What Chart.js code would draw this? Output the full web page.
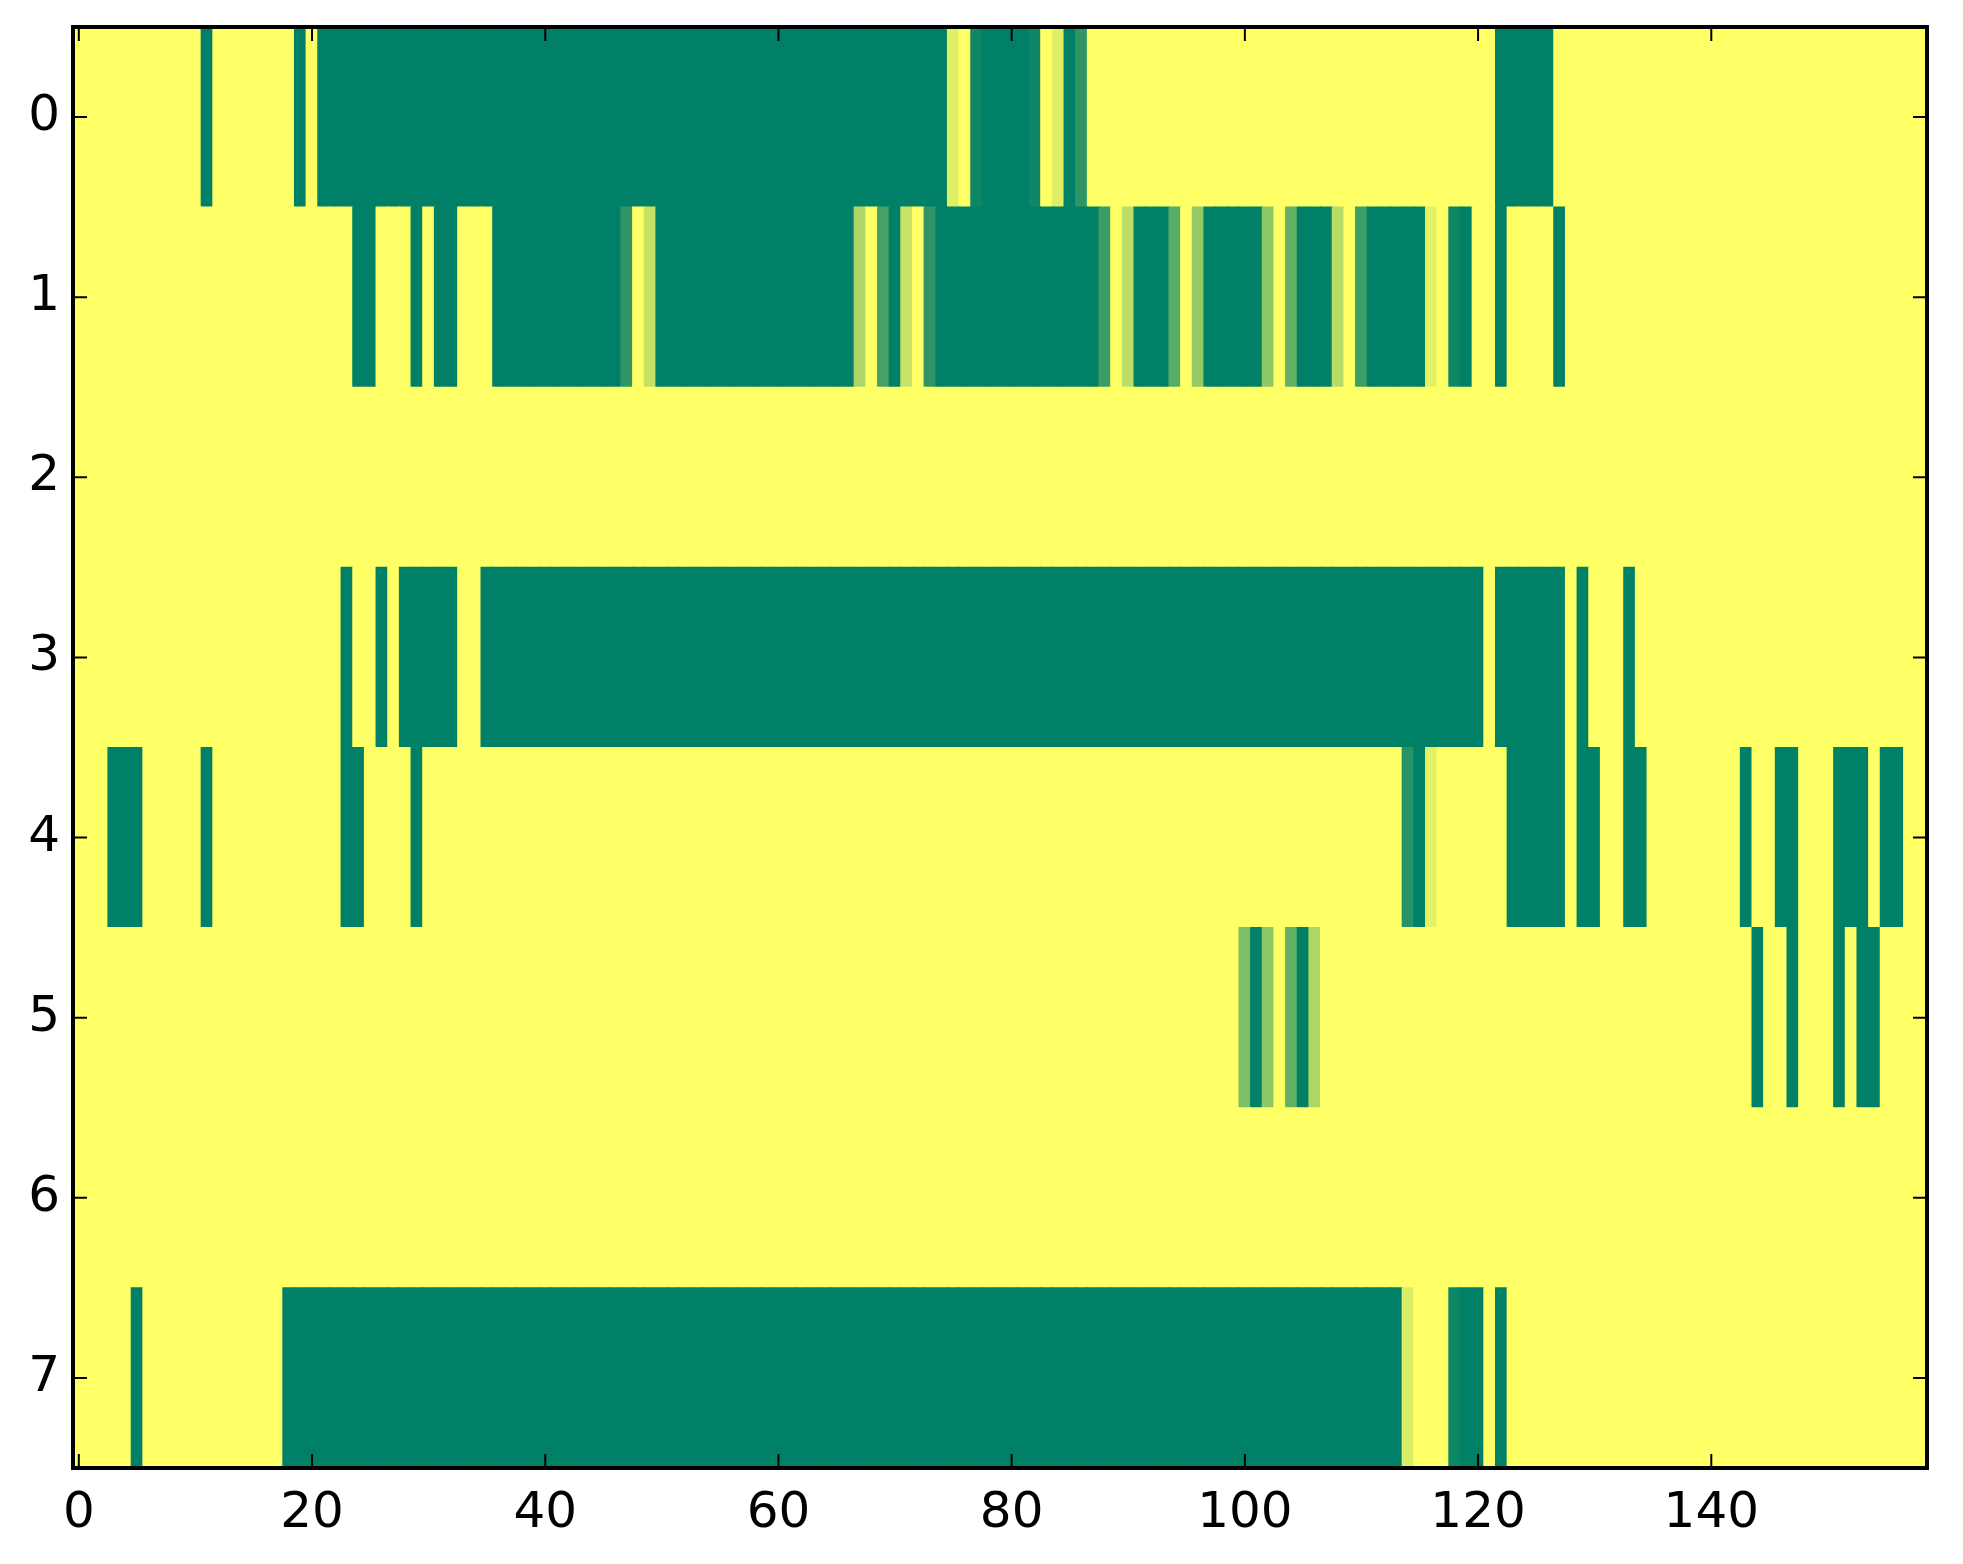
<!DOCTYPE html>
<html>
<head>
<meta charset="utf-8">
<script src="https://cdn.jsdelivr.net/npm/chart.js@4.4.0/dist/chart.umd.min.js"></script>
<style>
html, body { margin: 0; padding: 0; background: #fff; }
</style>
</head>
<body>
<canvas id="heat" width="1963" height="1564"></canvas>
<script>
// row / column tick labels
const rowLabels = [0, 1, 2, 3, 4, 5, 6, 7];
const xTicks = [0, 20, 40, 60, 80, 100, 120, 140];

// cell values per row, 159 columns each (0 = green, 1 = yellow)
const row0 = [
  1,1,1,1,1,1,1,1,1,1, 1,0,1,1,1,1,1,1,1,0,
  1,0,0,0,0,0,0,0,0,0, 0,0,0,0,0,0,0,0,0,0,
  0,0,0,0,0,0,0,0,0,0, 0,0,0,0,0,0,0,0,0,0,
  0,0,0,0,0,0,0,0,0,0, 0,0,0,0,0,.88,1,.06,0,0,
  0,0,.06,1,.88,0,.18,1,1,1, 1,1,1,1,1,1,1,1,1,1,
  1,1,1,1,1,1,1,1,1,1, 1,1,1,1,1,1,1,1,1,1,
  1,1,0,0,0,0,0,1,1,1, 1,1,1,1,1,1,1,1,1,1,
  1,1,1,1,1,1,1,1,1,1, 1,1,1,1,1,1,1,1,1
];
const row1 = [
  1,1,1,1,1,1,1,1,1,1, 1,1,1,1,1,1,1,1,1,1,
  1,1,1,1,0,0,1,1,1,0, 1,0,0,1,1,1,0,0,0,0,
  0,0,0,0,0,0,0,.18,1,.77, 0,0,0,0,0,0,0,0,0,0,
  0,0,0,0,0,0,0,.68,1,.27, 0,.78,1,.18,0,0,0,0,0,0,
  0,0,0,0,0,0,0,0,.23,1, .74,0,0,0,.35,1,.58,0,0,0,
  0,0,.56,1,.38,0,0,0,.72,1, .24,0,0,0,0,0,.9,1,.05,0,
  1,1,0,1,1,1,1,0,1,1, 1,1,1,1,1,1,1,1,1,1,
  1,1,1,1,1,1,1,1,1,1, 1,1,1,1,1,1,1,1,1
];
const row2 = [
  1,1,1,1,1,1,1,1,1,1, 1,1,1,1,1,1,1,1,1,1,
  1,1,1,1,1,1,1,1,1,1, 1,1,1,1,1,1,1,1,1,1,
  1,1,1,1,1,1,1,1,1,1, 1,1,1,1,1,1,1,1,1,1,
  1,1,1,1,1,1,1,1,1,1, 1,1,1,1,1,1,1,1,1,1,
  1,1,1,1,1,1,1,1,1,1, 1,1,1,1,1,1,1,1,1,1,
  1,1,1,1,1,1,1,1,1,1, 1,1,1,1,1,1,1,1,1,1,
  1,1,1,1,1,1,1,1,1,1, 1,1,1,1,1,1,1,1,1,1,
  1,1,1,1,1,1,1,1,1,1, 1,1,1,1,1,1,1,1,1
];
const row3 = [
  1,1,1,1,1,1,1,1,1,1, 1,1,1,1,1,1,1,1,1,1,
  1,1,1,0,1,1,0,1,0,0, 0,0,0,1,1,0,0,0,0,0,
  0,0,0,0,0,0,0,0,0,0, 0,0,0,0,0,0,0,0,0,0,
  0,0,0,0,0,0,0,0,0,0, 0,0,0,0,0,0,0,0,0,0,
  0,0,0,0,0,0,0,0,0,0, 0,0,0,0,0,0,0,0,0,0,
  0,0,0,0,0,0,0,0,0,0, 0,0,0,0,0,0,0,0,0,0,
  0,1,0,0,0,0,0,0,1,0, 1,1,1,0,1,1,1,1,1,1,
  1,1,1,1,1,1,1,1,1,1, 1,1,1,1,1,1,1,1,1
];
const row4 = [
  1,1,1,0,0,0,1,1,1,1, 1,0,1,1,1,1,1,1,1,1,
  1,1,1,0,0,1,1,1,1,0, 1,1,1,1,1,1,1,1,1,1,
  1,1,1,1,1,1,1,1,1,1, 1,1,1,1,1,1,1,1,1,1,
  1,1,1,1,1,1,1,1,1,1, 1,1,1,1,1,1,1,1,1,1,
  1,1,1,1,1,1,1,1,1,1, 1,1,1,1,1,1,1,1,1,1,
  1,1,1,1,1,1,1,1,1,1, 1,1,1,1,.15,0,.9,1,1,1,
  1,1,1,0,0,0,0,0,1,0, 0,1,1,0,0,1,1,1,1,1,
  1,1,1,0,1,1,0,0,1,1, 1,0,0,0,1,0,0,1,1
];
const row5 = [
  1,1,1,1,1,1,1,1,1,1, 1,1,1,1,1,1,1,1,1,1,
  1,1,1,1,1,1,1,1,1,1, 1,1,1,1,1,1,1,1,1,1,
  1,1,1,1,1,1,1,1,1,1, 1,1,1,1,1,1,1,1,1,1,
  1,1,1,1,1,1,1,1,1,1, 1,1,1,1,1,1,1,1,1,1,
  1,1,1,1,1,1,1,1,1,1, 1,1,1,1,1,1,1,1,1,1,
  .49,0,.56,1,.38,0,.68,1,1,1, 1,1,1,1,1,1,1,1,1,1,
  1,1,1,1,1,1,1,1,1,1, 1,1,1,1,1,1,1,1,1,1,
  1,1,1,1,0,1,1,0,1,1, 1,0,1,0,0,1,1,1,1
];
const row6 = [
  1,1,1,1,1,1,1,1,1,1, 1,1,1,1,1,1,1,1,1,1,
  1,1,1,1,1,1,1,1,1,1, 1,1,1,1,1,1,1,1,1,1,
  1,1,1,1,1,1,1,1,1,1, 1,1,1,1,1,1,1,1,1,1,
  1,1,1,1,1,1,1,1,1,1, 1,1,1,1,1,1,1,1,1,1,
  1,1,1,1,1,1,1,1,1,1, 1,1,1,1,1,1,1,1,1,1,
  1,1,1,1,1,1,1,1,1,1, 1,1,1,1,1,1,1,1,1,1,
  1,1,1,1,1,1,1,1,1,1, 1,1,1,1,1,1,1,1,1,1,
  1,1,1,1,1,1,1,1,1,1, 1,1,1,1,1,1,1,1,1
];
const row7 = [
  1,1,1,1,1,0,1,1,1,1, 1,1,1,1,1,1,1,1,0,0,
  0,0,0,0,0,0,0,0,0,0, 0,0,0,0,0,0,0,0,0,0,
  0,0,0,0,0,0,0,0,0,0, 0,0,0,0,0,0,0,0,0,0,
  0,0,0,0,0,0,0,0,0,0, 0,0,0,0,0,0,0,0,0,0,
  0,0,0,0,0,0,0,0,0,0, 0,0,0,0,0,0,0,0,0,0,
  0,0,0,0,0,0,0,0,0,0, 0,0,0,0,.86,1,1,1,.05,0,
  0,1,0,1,1,1,1,1,1,1, 1,1,1,1,1,1,1,1,1,1,
  1,1,1,1,1,1,1,1,1,1, 1,1,1,1,1,1,1,1,1
];
const rows = [row0, row1, row2, row3, row4, row5, row6, row7];

// matplotlib "summer" colormap
function summer(v) {
    return 'rgb(' + Math.round(255 * v) + ',' + Math.round(127.5 + 127.5 * v) + ',102)';
}

const cells = [];
const cellColors = [];
rows.forEach((row, r) => {
    row.forEach((v, c) => {
        cells.push({ x: [c - 0.5, c + 0.5], y: r });
        cellColors.push(summer(v));
    });
});

// black frame + inward ticks on all four sides
const framePlugin = {
    id: 'frame',
    afterDatasetsDraw(chart) {
        const { ctx, chartArea: a, scales: { x, y } } = chart;
        const len = 14;
        ctx.save();
        ctx.strokeStyle = '#000';
        ctx.lineWidth = 2;
        ctx.beginPath();
        x.ticks.forEach(t => {
            const px = x.getPixelForValue(t.value);
            ctx.moveTo(px, a.bottom); ctx.lineTo(px, a.bottom - len);
            ctx.moveTo(px, a.top); ctx.lineTo(px, a.top + len);
        });
        y.ticks.forEach(t => {
            const py = y.getPixelForValue(t.value);
            ctx.moveTo(a.left, py); ctx.lineTo(a.left + len, py);
            ctx.moveTo(a.right, py); ctx.lineTo(a.right - len, py);
        });
        ctx.stroke();
        ctx.lineWidth = 4;
        ctx.strokeRect(a.left, a.top, a.right - a.left, a.bottom - a.top);
        ctx.restore();
    }
};

const tickFont = { family: 'DejaVu Sans', size: 50 };

window.onload = function() {
    const ctx = document.getElementById('heat').getContext('2d');
    new Chart(ctx, {
        type: 'bar',
        data: {
            datasets: [{
                data: cells,
                backgroundColor: cellColors,
                borderWidth: 0,
                inflateAmount: 0.6,
                barPercentage: 1,
                categoryPercentage: 1
            }]
        },
        options: {
            indexAxis: 'y',
            responsive: false,
            devicePixelRatio: 1,
            animation: false,
            layout: { padding: { left: 0, top: 27, right: 36, bottom: 0 } },
            plugins: {
                legend: { display: false },
                tooltip: { enabled: false }
            },
            scales: {
                x: {
                    type: 'linear',
                    position: 'bottom',
                    min: -0.5,
                    max: 158.5,
                    offset: false,
                    grid: { display: false, drawTicks: false },
                    border: { display: false },
                    ticks: { font: tickFont, color: '#000', padding: 16 },
                    afterBuildTicks: ax => { ax.ticks = xTicks.map(v => ({ value: v })); },
                    afterFit: ax => {
                        ax.height = 96;
                        ax.paddingLeft = 0;
                        ax.paddingRight = 0;
                    }
                },
                y: {
                    type: 'linear',
                    reverse: true,
                    min: -0.5,
                    max: 7.5,
                    offset: false,
                    grid: { display: false, drawTicks: false, offset: false },
                    border: { display: false },
                    ticks: { font: tickFont, color: '#000', padding: 13 },
                    afterBuildTicks: ax => { ax.ticks = rowLabels.map(v => ({ value: v })); },
                    afterFit: ax => {
                        ax.width = 73;
                        ax.paddingTop = 0;
                        ax.paddingBottom = 0;
                    }
                }
            }
        },
        plugins: [framePlugin]
    });
};
</script>
</body>
</html>
